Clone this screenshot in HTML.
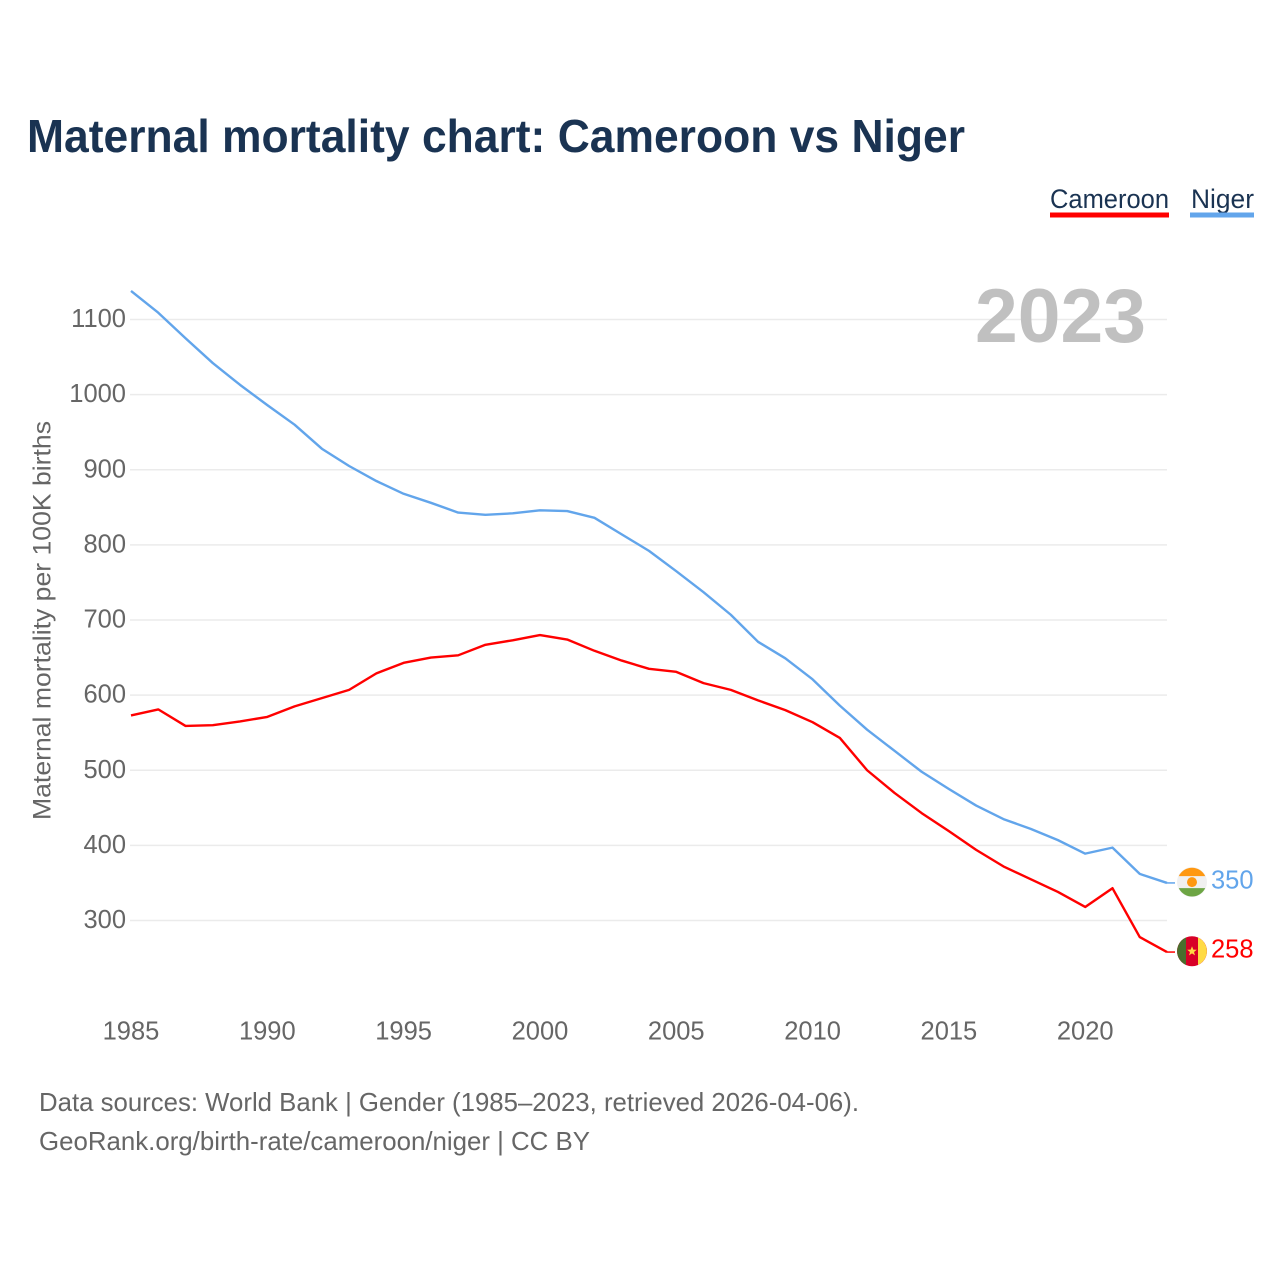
<!DOCTYPE html>
<html lang="en">
<head>
<meta charset="utf-8">
<title>Maternal mortality chart: Cameroon vs Niger</title>
<style>
  html, body { margin: 0; padding: 0; background: #fff; }
  svg { display: block; font-family: "Liberation Sans", "DejaVu Sans", sans-serif; }
</style>
</head>
<body>
<svg id="chart" xmlns="http://www.w3.org/2000/svg" width="1280" height="1280" viewBox="0 0 1280 1280">
  <rect width="1280" height="1280" fill="#ffffff"/>
  <text x="27" y="152" font-size="46" font-weight="700" fill="#1a3352" textLength="938" lengthAdjust="spacingAndGlyphs">Maternal mortality chart: Cameroon vs Niger</text>

  <g>
    <text x="1050" y="208" font-size="27" fill="#1a3352" textLength="119" lengthAdjust="spacingAndGlyphs">Cameroon</text>
    <rect x="1050" y="212.5" width="119" height="5" fill="#ff0000"/>
  </g>
  <g>
    <text x="1191" y="208" font-size="27" fill="#1a3352" textLength="63" lengthAdjust="spacingAndGlyphs">Niger</text>
    <rect x="1190" y="212.5" width="64" height="5" fill="#62a5eb"/>
  </g>

  <g id="grid"></g>
  <text x="1146" y="342" text-anchor="end" font-size="76" font-weight="700" fill="#c0c0c0" textLength="171" lengthAdjust="spacingAndGlyphs">2023</text>
  <g id="yticks"></g>
  <g id="xticks"></g>
  <text transform="translate(50.5,620.5) rotate(-90)" text-anchor="middle" font-size="25" fill="#666666" textLength="399" lengthAdjust="spacingAndGlyphs">Maternal mortality per 100K births</text>
  <g id="series"></g>
  <g id="end-markers"></g>

  <text x="39" y="1111" font-size="26" fill="#666666" textLength="820" lengthAdjust="spacingAndGlyphs">Data sources: World Bank | Gender (1985–2023, retrieved 2026-04-06).</text>
  <text x="39" y="1150" font-size="26" fill="#666666" textLength="551" lengthAdjust="spacingAndGlyphs">GeoRank.org/birth-rate/cameroon/niger | CC BY</text>
</svg>
<script>
const years = [1985,1986,1987,1988,1989,1990,1991,1992,1993,1994,1995,1996,1997,1998,1999,2000,2001,2002,2003,2004,2005,2006,2007,2008,2009,2010,2011,2012,2013,2014,2015,2016,2017,2018,2019,2020,2021,2022,2023];
const nigerValues = [1138,1109,1075,1042,1013,986,960,928,905,885,868,856,843,840,842,846,845,836,814,792,765,737,707,671,649,621,586,554,526,498,475,453,435,422,407,389,397,362,350];
const cameroonValues = [573,581,559,560,565,571,585,596,607,629,643,650,653,667,673,680,674,659,646,635,631,616,607,593,580,564,543,500,470,443,419,394,372,355,338,318,343,278,258];
const yTickValues = [300,400,500,600,700,800,900,1000,1100];
const xTickValues = [1985,1990,1995,2000,2005,2010,2015,2020];

const NS = 'http://www.w3.org/2000/svg';
function xScale(year) { return 131 + (year - 1985) * (1167 - 131) / 38; }
function yScale(v) { return 920.5 - (v - 300) * (920.5 - 319.5) / 800; }
function make(tag, attrs, parent) {
  const el = document.createElementNS(NS, tag);
  for (const k in attrs) el.setAttribute(k, attrs[k]);
  parent.appendChild(el);
  return el;
}

const grid = document.getElementById('grid');
const yticks = document.getElementById('yticks');
const xticks = document.getElementById('xticks');
const series = document.getElementById('series');
const markers = document.getElementById('end-markers');

yTickValues.forEach(function (v) {
  const line = make('line', { x1: 130, x2: 1167, y1: yScale(v), y2: yScale(v), stroke: '#ebebeb', 'stroke-width': 1.5 }, grid);
  
  
  const label = make('text', { x: 126, y: yScale(v) + 7.5, 'text-anchor': 'end', 'font-size': 25.5, fill: '#666666' }, yticks);
  
  
  label.textContent = v;
});

xTickValues.forEach(function (yr) {
  const label = make('text', { x: xScale(yr), y: 1039.5, 'text-anchor': 'middle', 'font-size': 25.5, fill: '#666666' }, xticks);
  
  
  label.textContent = yr;
});

function drawLine(values, color, name) {
  const pts = values.map(function (v, i) { return xScale(years[i]).toFixed(2) + ',' + yScale(v).toFixed(2); }).join(' ');
  const line = make('polyline', { points: pts, fill: 'none', stroke: color, 'stroke-width': 2.4, 'stroke-linejoin': 'round' }, series);
  
  
}
drawLine(nigerValues, '#62a5eb', 'line-niger');
drawLine(cameroonValues, '#ff0000', 'line-cameroon');

function drawEnd(values, color, name, drawFlag) {
  const last = values[values.length - 1];
  const lx = xScale(years[years.length - 1]);
  const ly = yScale(last);
  const stub = make('line', { x1: lx, x2: lx + 8, y1: ly, y2: ly, stroke: color, 'stroke-width': 1.5 }, markers);
  
  
  const flag = make('g', { transform: 'translate(' + (lx + 25) + ',' + (ly - 0.8) + ')' }, markers);
  
  
  drawFlag(flag);
  const label = make('text', { x: lx + 44, y: ly + 5.5, 'font-size': 25.5, fill: color }, markers);
  
  
  label.textContent = last;
}

drawEnd(nigerValues, '#62a5eb', 'niger', function (g) {
  make('circle', { r: 15, fill: '#f0f0f0' }, g);
  make('path', { d: 'M-13.2,-6 A14.6,14.6 0 0 1 13.2,-6 Z', fill: '#ff9811' }, g);
  make('path', { d: 'M-13.2,6 A14.6,14.6 0 0 0 13.2,6 Z', fill: '#6da544' }, g);
  make('circle', { r: 5, fill: '#ff9811' }, g);
});

drawEnd(cameroonValues, '#ff0000', 'cameroon', function (g) {
  make('circle', { r: 15, fill: '#d80027' }, g);
  make('path', { d: 'M-6,-13.7 A15,15 0 0 0 -6,13.7 Z', fill: '#496e2d' }, g);
  make('path', { d: 'M6,-13.7 A15,15 0 0 1 6,13.7 Z', fill: '#ffda44' }, g);
  make('path', { d: 'M0,-5 L1.3,-1.6 L4.8,-1.5 L2,0.7 L3,4.1 L0,2.1 L-3,4.1 L-2,0.7 L-4.8,-1.5 L-1.3,-1.6 Z', fill: '#ffda44' }, g);
});
</script>
</body>
</html>
